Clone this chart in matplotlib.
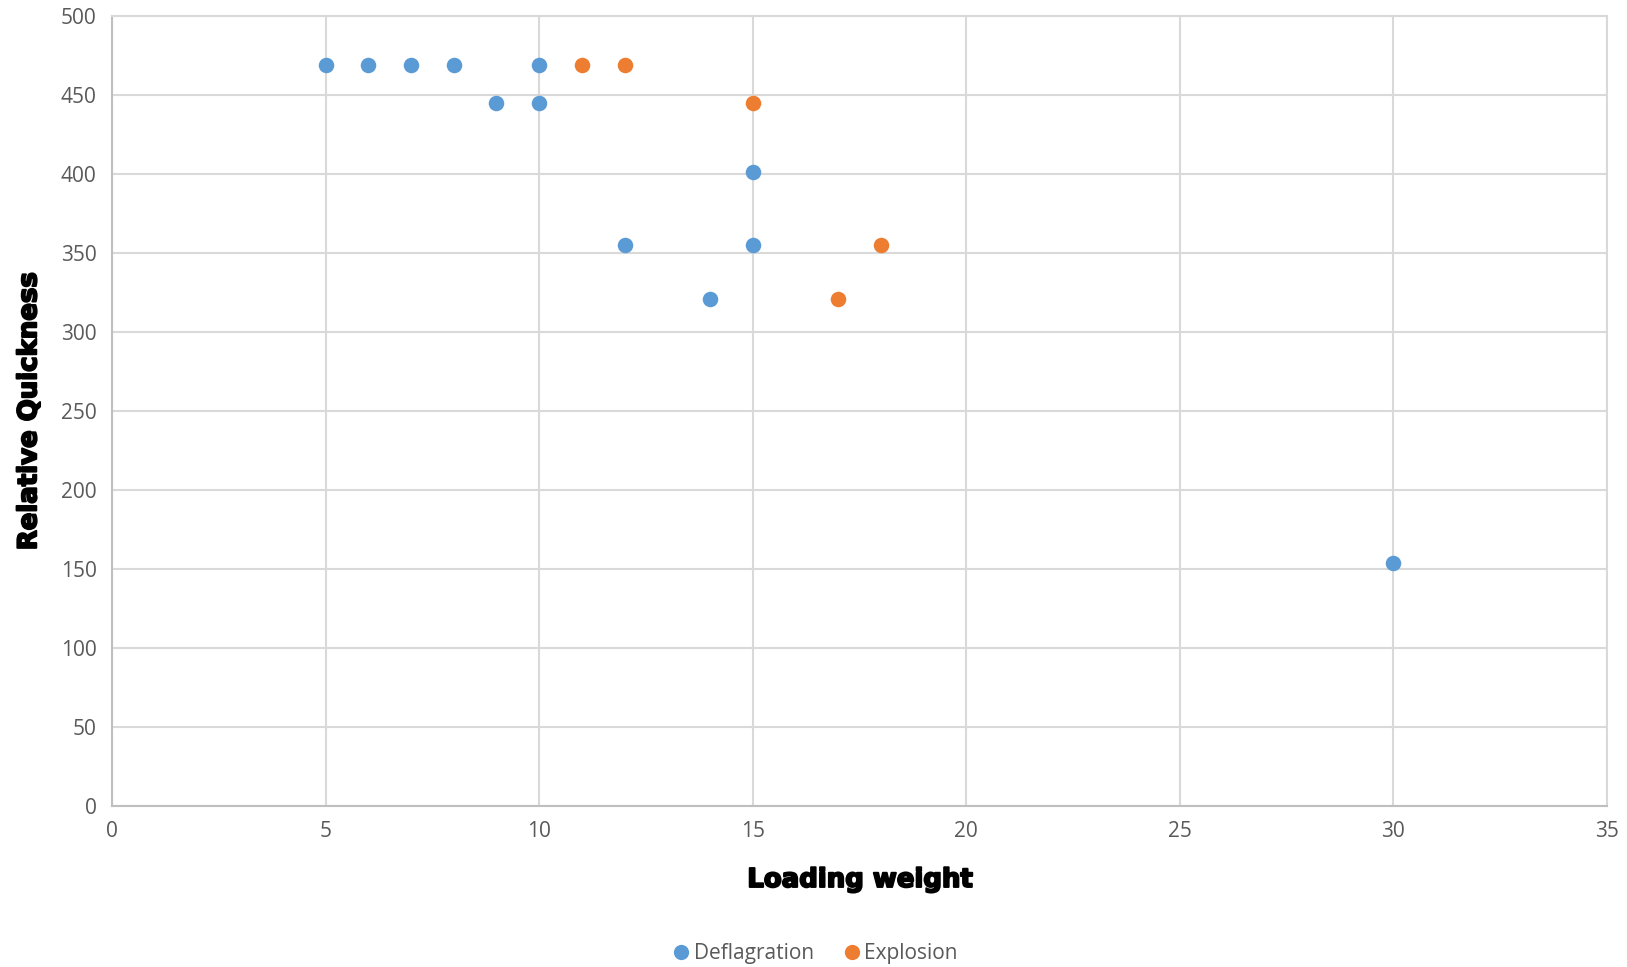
import matplotlib
matplotlib.use("Agg")
import matplotlib.pyplot as plt
import matplotlib.patheffects as pe
from matplotlib.lines import Line2D

# Loading weight vs. relative quickness
defl_x = [5, 6, 7, 8, 10, 9, 10, 15, 12, 15, 14, 30]
defl_y = [469, 469, 469, 469, 469, 445, 445, 401, 355, 355, 321, 154]
expl_x = [11, 12, 15, 18, 17]
expl_y = [469, 469, 445, 355, 321]
series_names = ["Deflagration", "Explosion"]
x_ticks = [0, 5, 10, 15, 20, 25, 30, 35]
y_ticks = [0, 50, 100, 150, 200, 250, 300, 350, 400, 450, 500]

BLUE = "#5B9BD5"
ORANGE = "#ED7D31"
GRID = "#D9D9D9"
TICK_COLOR = "#595959"

fig = plt.figure(figsize=(16.27, 9.67), dpi=100)
ax = fig.add_axes([0.0688, 0.1665, 0.9189, 0.8174])

ax.scatter(defl_x, defl_y, s=125, color=BLUE, zorder=3, linewidths=0)
ax.scatter(expl_x, expl_y, s=125, color=ORANGE, zorder=3, linewidths=0)

ax.set_xlim(x_ticks[0], x_ticks[-1])
ax.set_ylim(y_ticks[0], y_ticks[-1])
ax.set_xticks(x_ticks)
ax.set_yticks(y_ticks)
ax.grid(True, color=GRID, linewidth=1.5, zorder=0)
ax.set_axisbelow(True)

for side in ["top", "right"]:
    ax.spines[side].set_color(GRID)
    ax.spines[side].set_linewidth(1.5)
for side in ["left", "bottom"]:
    ax.spines[side].set_color("#BFBFBF")
    ax.spines[side].set_linewidth(1.5)

ax.tick_params(axis="both", length=0, labelsize=15, labelcolor=TICK_COLOR, pad=11)
for lbl in ax.get_xticklabels() + ax.get_yticklabels():
    lbl.set_fontfamily("Open Sans")

# Extra-heavy axis titles: bold face thickened with a stroke of the same colour
heavy = [pe.withStroke(linewidth=1.4, foreground="black")]
title_font = dict(family="DejaVu Sans", fontweight="bold", fontsize=18.7, color="black",
                  path_effects=heavy)
fig.text(0.5285, 0.090, "Loading weight", ha="center", va="center", **title_font)
fig.text(0.0180, 0.5745, "Relative Quickness", ha="center", va="center", rotation=90, **title_font)

handles = [
    Line2D([], [], marker="o", linestyle="none", markersize=11, markerfacecolor=BLUE, markeredgewidth=0),
    Line2D([], [], marker="o", linestyle="none", markersize=11, markerfacecolor=ORANGE, markeredgewidth=0),
]
fig.legend(handles, series_names, loc="center", bbox_to_anchor=(0.5005, 0.0138), ncol=2, frameon=False,
           prop=dict(family="Open Sans", size=15), labelcolor=TICK_COLOR,
           handletextpad=0.1, columnspacing=1.3, handlelength=1.0)

fig.savefig("out.png", dpi=100)
